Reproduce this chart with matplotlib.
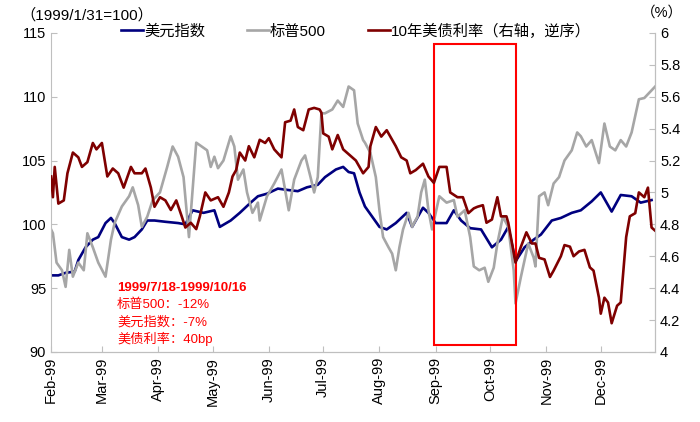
import numpy as np
import pandas as pd
import matplotlib
matplotlib.use('Agg')
import matplotlib.pyplot as plt
import matplotlib.dates as mdates
from matplotlib.patches import Rectangle

plt.rcParams['font.family'] = ['Liberation Sans', 'Noto Sans CJK SC', 'DejaVu Sans']
plt.rcParams['axes.unicode_minus'] = False

start = pd.Timestamp('1999-02-01')

# 美元指数 (1999/1/31=100)，日期用距 1999-02-01 的天数
usd_days = [0, 4, 8, 13, 15, 19, 23, 26, 30, 33, 35, 39, 43, 46, 50, 53, 57, 63, 70, 74,
            78, 84, 90, 93, 99, 104, 110, 114, 119, 125, 130, 136, 141, 147, 151, 157, 161,
            164, 167, 170, 173, 177, 181, 185, 190, 196, 199, 205, 208, 212, 218, 222, 226,
            231, 237, 243, 248, 252, 256, 261, 266, 270, 276, 281, 287, 292, 298, 303, 309,
            314, 320, 325, 331]
usd_vals = [96.0, 96.0, 96.2, 96.3, 97.2, 98.2, 98.8, 99.0, 100.1, 100.5, 100.1, 99.0, 98.8,
            99.0, 99.6, 100.3, 100.3, 100.2, 100.1, 100.0, 101.1, 100.9, 101.1, 99.8, 100.3,
            100.9, 101.7, 102.2, 102.4, 102.8, 102.7, 102.6, 102.9, 103.1, 103.7, 104.3,
            104.5, 104.1, 104.0, 102.5, 101.4, 100.6, 99.8, 99.6, 100.1, 100.9, 99.8, 101.3,
            100.9, 100.1, 100.1, 101.1, 100.3, 99.7, 99.6, 98.2, 98.8, 99.8, 97.1, 98.2, 98.8,
            99.2, 100.3, 100.5, 100.9, 101.1, 101.8, 102.5, 101.0, 102.3, 102.2, 101.7, 101.9]

# 标普500 (1999/1/31=100)
spx_days = [0, 1, 3, 6, 8, 10, 12, 15, 18, 20, 23, 26, 30, 33, 35, 39, 43, 45, 48, 50, 53,
            56, 60, 64, 67, 70, 73, 76, 80, 86, 88, 90, 92, 95, 99, 101, 103, 106, 108, 111,
            114, 115, 119, 123, 127, 128, 131, 134, 138, 140, 143, 145, 147, 149, 151, 155,
            158, 161, 164, 167, 169, 172, 173, 176, 179, 181, 183, 186, 188, 190, 192, 194,
            197, 199, 202, 204, 206, 208, 210, 214, 218, 222, 224, 228, 231, 233, 236, 239,
            241, 244, 246, 249, 252, 255, 256, 259, 263, 266, 267, 269, 272, 274, 277, 280,
            283, 287, 290, 292, 295, 298, 302, 305, 308, 311, 314, 317, 320, 324, 327, 331, 333]
spx_vals = [99.6, 99.3, 97.0, 96.4, 95.1, 98.0, 95.9, 97.0, 96.4, 99.3, 98.2, 97.0, 95.9,
            98.8, 100.1, 101.4, 102.2, 102.9, 101.5, 99.8, 100.6, 101.9, 102.5, 104.5, 106.1,
            105.3, 103.7, 99.0, 106.4, 105.8, 104.5, 105.3, 104.4, 105.0, 106.9, 106.1, 103.5,
            104.3, 102.5, 100.9, 101.7, 100.3, 102.2, 103.2, 104.3, 103.5, 101.1, 103.5, 105.0,
            105.4, 103.7, 102.5, 103.7, 108.7, 108.7, 109.0, 109.7, 109.2, 110.8, 110.5, 107.9,
            106.6, 106.4, 105.6, 103.7, 101.1, 99.0, 98.2, 97.7, 96.4, 98.2, 99.6, 100.9, 99.8,
            100.6, 102.5, 103.5, 101.1, 99.6, 102.2, 101.7, 101.9, 100.6, 101.1, 99.0, 96.7,
            96.4, 96.6, 95.5, 96.6, 98.5, 100.6, 99.8, 96.4, 93.8, 95.9, 98.5, 97.4, 96.7,
            102.2, 102.5, 101.5, 103.2, 103.7, 105.0, 105.8, 107.2, 106.9, 106.1, 106.6, 104.8,
            107.9, 106.1, 105.8, 106.6, 106.1, 107.2, 109.8, 109.9, 110.5, 110.8]

# 10年美债利率 (%, 右轴)
ust_days = [0, 1, 2, 4, 7, 9, 12, 15, 17, 20, 23, 25, 28, 31, 34, 37, 40, 44, 46, 50, 52,
            55, 57, 60, 63, 66, 69, 72, 74, 77, 80, 82, 85, 88, 92, 95, 98, 100, 102, 104,
            107, 109, 112, 115, 118, 120, 123, 127, 129, 132, 134, 136, 139, 142, 145, 148,
            149, 150, 153, 155, 158, 161, 164, 168, 172, 175, 176, 179, 182, 185, 187, 190,
            193, 196, 198, 201, 205, 208, 211, 214, 218, 220, 224, 227, 230, 233, 235, 238,
            240, 243, 246, 248, 251, 252, 256, 259, 262, 265, 267, 269, 272, 275, 277, 281,
            283, 286, 288, 291, 294, 297, 299, 302, 303, 305, 307, 309, 312, 314, 317, 319,
            322, 324, 327, 329, 331, 334]
ust_vals = [5.10, 4.97, 5.16, 4.93, 4.95, 5.12, 5.25, 5.22, 5.16, 5.19, 5.31, 5.27, 5.31,
            5.10, 5.15, 5.12, 5.03, 5.16, 5.12, 5.12, 5.15, 5.03, 4.91, 4.97, 4.95, 4.89, 4.95,
            4.85, 4.78, 4.81, 4.77, 4.85, 5.00, 4.95, 4.97, 4.91, 5.00, 5.10, 5.14, 5.25, 5.20,
            5.29, 5.22, 5.33, 5.31, 5.34, 5.27, 5.22, 5.44, 5.45, 5.52, 5.41, 5.39, 5.52, 5.53,
            5.52, 5.50, 5.37, 5.35, 5.27, 5.36, 5.27, 5.24, 5.20, 5.12, 5.16, 5.29, 5.41, 5.35,
            5.39, 5.35, 5.29, 5.22, 5.20, 5.12, 5.14, 5.18, 5.10, 5.06, 5.16, 5.16, 5.00, 4.97,
            4.97, 4.87, 4.90, 4.91, 4.92, 4.81, 4.83, 4.97, 4.85, 4.85, 4.81, 4.56, 4.66, 4.75,
            4.68, 4.68, 4.59, 4.58, 4.47, 4.51, 4.60, 4.67, 4.66, 4.60, 4.63, 4.64, 4.53, 4.51,
            4.34, 4.24, 4.34, 4.31, 4.18, 4.29, 4.31, 4.72, 4.85, 4.87, 5.00, 4.97, 5.03, 4.78,
            4.75]

box_start, box_end = '1999-08-31', '1999-10-15'
note_lines = ['1999/7/18-1999/10/16', '标普500：-12%', '美元指数：-7%', '美债利率：40bp']


def to_dates(days):
    return start + pd.to_timedelta(days, unit='D')


blue = '#00007F'
grey = '#A6A6A6'
red = '#7F0000'

fig = plt.figure(figsize=(7, 4.22), dpi=100)
ax = fig.add_axes([0.073, 0.166, 0.863, 0.756])
ax2 = ax.twinx()

l1, = ax.plot(to_dates(usd_days), usd_vals, color=blue, lw=1.9, label='美元指数')
l2, = ax.plot(to_dates(spx_days), spx_vals, color=grey, lw=1.9, label='标普500')
l3, = ax2.plot(to_dates(ust_days), ust_vals, color=red, lw=1.9, label='10年美债利率（右轴，逆序）')

ax.set_ylim(90, 115)
ax.set_yticks(np.arange(90, 116, 5))
ax2.set_ylim(4, 6)
ax2.set_yticks(np.arange(4, 6.01, 0.2))
ax2.set_yticklabels(['4', '4.2', '4.4', '4.6', '4.8', '5', '5.2', '5.4', '5.6', '5.8', '6'])
ax.set_xlim(pd.Timestamp('1999-02-01'), pd.Timestamp('1999-12-31'))
ax.xaxis.set_major_locator(mdates.MonthLocator())
ax.xaxis.set_major_formatter(mdates.DateFormatter('%b-%y'))
for lab in ax.get_xticklabels():
    lab.set_rotation(90)

for a in (ax, ax2):
    a.spines['top'].set_visible(False)
    for s in ('left', 'right', 'bottom'):
        a.spines[s].set_color('#BFBFBF')
    a.tick_params(direction='in', length=4, color='#BFBFBF', labelsize=10.5)
ax2.spines['left'].set_visible(False)

rect = Rectangle((mdates.date2num(pd.Timestamp(box_start)), 90.55),
                 mdates.date2num(pd.Timestamp(box_end)) - mdates.date2num(pd.Timestamp(box_start)),
                 23.6, fill=False, edgecolor='#FF0000', lw=1.5, zorder=5)
ax.add_patch(rect)

for i, line in enumerate(note_lines):
    fig.text(117 / 700, 1 - (288 + 17 * i) / 422, line, color='#FF0000', fontsize=9.5,
             va='center', ha='left', fontweight='bold' if i == 0 else 'normal')

fig.text(20 / 700, 1 - 15 / 422, '（1999/1/31=100）', fontsize=11, va='center', ha='left')
fig.text(641 / 700, 1 - 13 / 422, '（%）', fontsize=10.5, va='center', ha='left')

fig.legend(handles=[l1, l2, l3], loc='center', bbox_to_anchor=(356 / 700, 1 - 31 / 422),
           ncol=3, frameon=False, fontsize=11, handlelength=1.45, handletextpad=0.05,
           columnspacing=2.75)

fig.savefig('out.png', dpi=100)
